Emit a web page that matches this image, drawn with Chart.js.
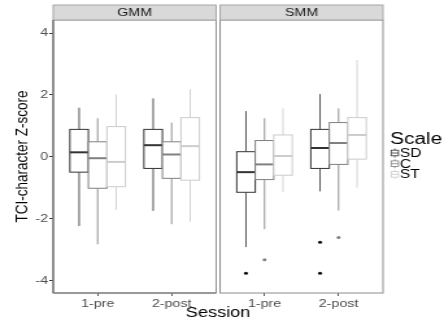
<!DOCTYPE html>
<html>
<head>
<meta charset="utf-8">
<script src="https://cdn.jsdelivr.net/npm/chart.js@4.4.1/dist/chart.umd.min.js"></script>
<style>
  html, body { margin: 0; padding: 0; background: #fff; overflow: hidden; }
  #wrap { width: 444px; height: 323px; overflow: hidden; }
  /* the reference picture is stretched sideways, so draw narrow and widen */
  #chart { display: block; transform: scaleX(1.2982); transform-origin: 0 0; }
</style>
</head>
<body>
<div id="wrap"><canvas id="chart" width="342" height="323"></canvas></div>
<script>
const sessions = ['1-pre', '2-post'];
const facets = ['GMM', 'SMM'];
const scaleNames = ['SD', 'C', 'ST'];
const scaleColors = ['#333333', '#808080', '#cccccc'];
const yTicks = [-4, -2, 0, 2, 4];

// [lower whisker, Q1, median, Q3, upper whisker], one row per session
const gmmSD = [[-2.23, -0.49, 0.15, 0.89, 1.59], [-1.74, -0.37, 0.38, 0.89, 1.89]];
const gmmC  = [[-2.82, -1.01, -0.04, 0.49, 1.25], [-2.17, -0.69, 0.08, 0.49, 1.11]];
const gmmST = [[-1.71, -0.96, -0.16, 0.98, 2.02], [-2.09, -0.75, 0.35, 1.27, 2.19]];
const smmSD = [[-2.91, -1.14, -0.49, 0.17, 1.48], [-1.11, -0.37, 0.29, 0.89, 2.03]];
const smmC  = [[-2.33, -0.73, -0.24, 0.53, 1.25], [-1.73, -0.24, 0.45, 1.11, 1.57]];
const smmST = [[-1.14, -0.59, 0.03, 0.71, 1.57], [-0.99, -0.07, 0.71, 1.27, 3.13]];

// outliers, one list per session
const gmmSDOut = [[], []];
const gmmCOut  = [[], []];
const gmmSTOut = [[], []];
const smmSDOut = [[-3.75], [-2.75, -3.75]];
const smmCOut  = [[-3.32], [-2.6]];
const smmSTOut = [[], []];

const boxes = { GMM: [gmmSD, gmmC, gmmST], SMM: [smmSD, smmC, smmST] };
const outliers = { GMM: [gmmSDOut, gmmCOut, gmmSTOut], SMM: [smmSDOut, smmCOut, smmSTOut] };

const FONT = '"Liberation Sans", Arial, sans-serif';
const dodge = 0.25;        // width of one box in x units
const panelShift = 2.254;  // second facet sits after [0.4, 2.6] plus a small gap
const xPos = (fi, k, si) => k + 1 + fi * panelShift + (si - 1) * dodge;

// outlier points as real scatter datasets
const datasets = scaleNames.map((name, si) => {
  const pts = [];
  facets.forEach((f, fi) => {
    outliers[f][si].forEach((vals, k) => {
      vals.forEach(v => pts.push({ x: xPos(fi, k, si), y: v }));
    });
  });
  return {
    label: name,
    data: pts,
    pointRadius: 1.5,
    pointBorderWidth: 0,
    pointBackgroundColor: si == 0 ? '#000' : scaleColors[si],
    showLine: false
  };
});

const boxPlugin = {
  id: 'boxes',
  beforeDatasetsDraw(chart) {
    const { ctx, scales: { x, y } } = chart;
    facets.forEach((f, fi) => {
      boxes[f].forEach((series, si) => {
        series.forEach((b, k) => {
          const cx = xPos(fi, k, si);
          const x0 = x.getPixelForValue(cx - dodge / 2);
          const x1 = x.getPixelForValue(cx + dodge / 2);
          const xm = x.getPixelForValue(cx);
          const [lo, q1, med, q3, hi] = b.map(v => y.getPixelForValue(v));
          ctx.save();
          ctx.strokeStyle = scaleColors[si];
          ctx.lineWidth = 0.85;
          ctx.beginPath();
          ctx.moveTo(xm, hi); ctx.lineTo(xm, q3);
          ctx.moveTo(xm, q1); ctx.lineTo(xm, lo);
          ctx.stroke();
          ctx.fillStyle = '#fff';
          ctx.lineWidth = 1;
          ctx.fillRect(x0, q3, x1 - x0, q1 - q3);
          ctx.strokeRect(x0, q3, x1 - x0, q1 - q3);
          ctx.lineWidth = 2;
          ctx.beginPath();
          ctx.moveTo(x0, med); ctx.lineTo(x1, med);
          ctx.stroke();
          ctx.restore();
        });
      });
    });
  }
};

const facetPlugin = {
  id: 'facets',
  afterDraw(chart) {
    const { ctx, chartArea: a, scales: { x } } = chart;
    ctx.save();
    facets.forEach((f, fi) => {
      const l = x.getPixelForValue(0.4 + fi * panelShift);
      const r = x.getPixelForValue(2.6 + fi * panelShift);
      ctx.strokeStyle = '#8c8c8c';
      ctx.lineWidth = 1;
      ctx.strokeRect(l, a.top, r - l, a.bottom - a.top);
      // strip
      ctx.fillStyle = '#d9d9d9';
      ctx.fillRect(l, 5, r - l, a.top - 5);
      ctx.strokeStyle = '#a6a6a6';
      ctx.strokeRect(l, 5, r - l, a.top - 5);
      ctx.fillStyle = '#1a1a1a';
      ctx.font = '11px ' + FONT;
      ctx.textAlign = 'center';
      ctx.textBaseline = 'middle';
      ctx.fillText(f, (l + r) / 2, (5 + a.top) / 2 + 0.5);
    });
    // axis lines on the left and bottom are a little darker
    ctx.strokeStyle = '#6e6e6e';
    ctx.lineWidth = 1.2;
    ctx.beginPath();
    ctx.moveTo(a.left, a.top); ctx.lineTo(a.left, a.bottom);
    ctx.moveTo(a.left, a.bottom); ctx.lineTo(x.getPixelForValue(2.6), a.bottom);
    ctx.stroke();

    // legend
    const lx = a.right + 5.5;
    ctx.fillStyle = '#000';
    ctx.textAlign = 'left';
    ctx.textBaseline = 'middle';
    ctx.font = '16px ' + FONT;
    ctx.fillText('Scale', lx, 139.5);
    ctx.font = '12px ' + FONT;
    scaleNames.forEach((n, i) => {
      const cy = 153 + i * 10.7;
      const bx = lx + 0.8, bw = 5.6;
      ctx.strokeStyle = scaleColors[i];
      ctx.lineWidth = 0.8;
      ctx.beginPath();
      ctx.moveTo(bx + bw / 2, cy - 4.5); ctx.lineTo(bx + bw / 2, cy - 2.8);
      ctx.moveTo(bx + bw / 2, cy + 2.8); ctx.lineTo(bx + bw / 2, cy + 4.5);
      ctx.stroke();
      ctx.strokeRect(bx, cy - 2.8, bw, 5.6);
      ctx.beginPath();
      ctx.moveTo(bx, cy); ctx.lineTo(bx + bw, cy);
      ctx.stroke();
      ctx.fillStyle = '#000';
      ctx.fillText(n, lx + 7.6, cy + 0.5);
    });
    ctx.restore();
  }
};

const tickPos = [];
facets.forEach((f, fi) => sessions.forEach((s, k) => tickPos.push(k + 1 + fi * panelShift)));

new Chart(document.getElementById('chart'), {
  type: 'scatter',
  data: { datasets: datasets },
  options: {
    responsive: false,
    animation: false,
    layout: { padding: { top: 20, right: 47, bottom: 0, left: 0 } },
    plugins: { legend: { display: false }, tooltip: { enabled: false } },
    scales: {
      x: {
        type: 'linear',
        min: 0.4,
        max: 2.6 + panelShift,
        afterBuildTicks: s => { s.ticks = tickPos.map(v => ({ value: v })); },
        afterFit: s => { s.height = 30; },
        border: { display: false },
        grid: { drawOnChartArea: false, tickLength: 3, tickColor: '#333', lineWidth: 0.8 },
        ticks: {
          autoSkip: false, maxRotation: 0, minRotation: 0, padding: 1,
          color: '#4d4d4d', font: { family: FONT, size: 11 },
          callback: (v, i) => sessions[i % sessions.length]
        },
        title: { display: true, text: 'Session', color: '#000', font: { family: FONT, size: 14 }, padding: { top: 0, bottom: 1 } }
      },
      y: {
        min: -4.39,
        max: 4.42,
        afterBuildTicks: s => { s.ticks = yTicks.map(v => ({ value: v })); },
        afterFit: s => { s.width = 41; },
        border: { display: false },
        grid: { drawOnChartArea: false, tickLength: 3, tickColor: '#333', lineWidth: 1 },
        ticks: { color: '#4d4d4d', font: { family: FONT, size: 11 }, padding: 1 },
        title: { display: true, text: 'TCI-character Z-score', color: '#000', font: { family: FONT, size: 13.5 }, padding: { top: 9, bottom: 0 } }
      }
    }
  },
  plugins: [boxPlugin, facetPlugin]
});
</script>
</body>
</html>
